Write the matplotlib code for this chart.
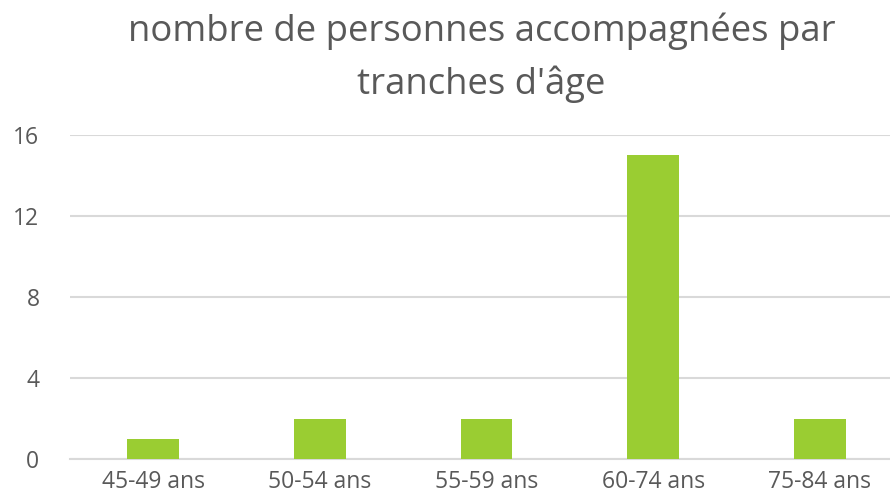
import numpy as np
import matplotlib.pyplot as plt

categories = ['45-49 ans', '50-54 ans', '55-59 ans', '60-74 ans', '75-84 ans']
personnes = [1, 2, 2, 15, 2]
y_ticks = [0, 4, 8, 12, 16]

plt.rcParams['font.family'] = ['Open Sans', 'DejaVu Sans']
text_color = '#595959'

fig = plt.figure(figsize=(8.9, 4.94), dpi=100)
ax = fig.add_axes([70 / 890, 35 / 494, 820 / 890, 324 / 494])

x = np.arange(len(categories))
ax.bar(x, personnes, width=0.31, color='#9acd32', zorder=3)

ax.set_ylim(0, 16)
ax.set_xlim(-0.5, (890 - 153) / 166.7)
ax.set_yticks(y_ticks)
ax.set_xticks(x, categories)
ax.grid(axis='y', color='#d9d9d9', linewidth=1.5, zorder=0)
ax.set_axisbelow(True)

for spine in ['top', 'right', 'left']:
    ax.spines[spine].set_visible(False)
ax.spines['bottom'].set_color('#d9d9d9')
ax.spines['bottom'].set_linewidth(1.5)

ax.tick_params(axis='both', length=0, colors=text_color, labelsize=16.5)
ax.tick_params(axis='y', pad=22)
ax.tick_params(axis='x', pad=8)

fig.text(0.541, 0.975, "nombre de personnes accompagnées par\ntranches d'âge",
         ha='center', va='top', fontsize=26.3, color=text_color, linespacing=1.55)

fig.savefig('out.png', dpi=100)
